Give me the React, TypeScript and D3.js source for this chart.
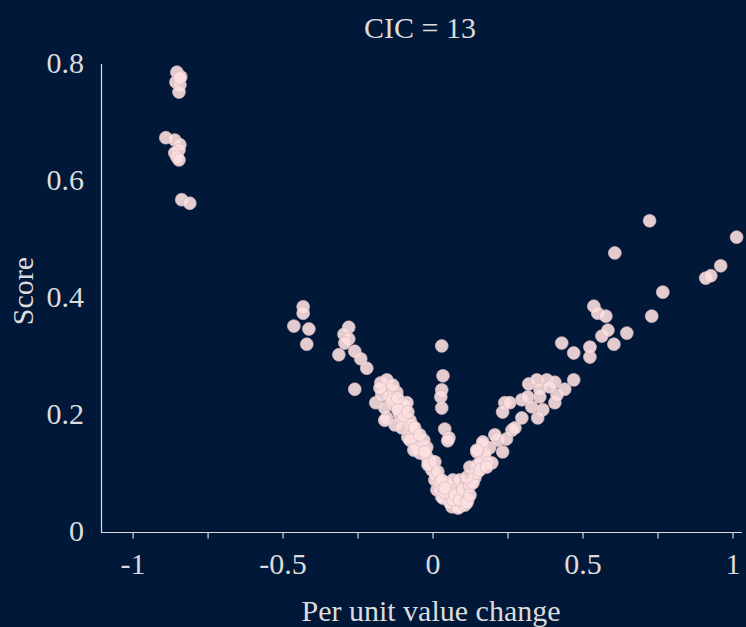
import React from "react";
import * as d3 from "d3";

const title = "CIC = 13";
const xLabel = "Per unit value change";
const yLabel = "Score";
const xTicks = [-1, -0.75, -0.5, -0.25, 0, 0.25, 0.5, 0.75, 1];
const xTickLabels = ["-1", "", "-0.5", "", "0", "", "0.5", "", "1"];
const yTicks = [0, 0.2, 0.4, 0.6, 0.8];
const yTickLabels = ["0", "0.2", "0.4", "0.6", "0.8"];

const xs = [
  -0.854, -0.841, -0.857, -0.844, -0.847, -0.844, -0.891, -0.861, -0.844, -0.847, -0.861, -0.854, -0.847, -0.838, -0.811,
  -0.433, -0.433, -0.464, -0.414, -0.421, -0.281, -0.297, -0.281, -0.294, -0.314, -0.261, -0.241, -0.221, -0.261,
  -0.174, -0.154, -0.144, -0.121, -0.191, -0.154, -0.127, -0.094, -0.144, -0.111, -0.077, -0.067, -0.084, -0.051, -0.034,
  -0.044, -0.017, -0.004, 0.006, 0.013, 0.029, 0.049, 0.073, 0.089, 0.063, 0.046, 0.066, -0.021, -0.011, -0.001, 0.013,
  0.023, 0.033, 0.056, 0.083, 0.106, 0.056, 0.079, 0.099, 0.089, 0.046, 0.066, -0.161, -0.101, -0.087, -0.171, -0.137,
  -0.118, -0.098, -0.071, -0.057, -0.031, -0.024, -0.011, 0.009, 0.023, 0.039, -0.054,
  -0.177, -0.134, -0.118, -0.161, -0.084, -0.127, -0.104, -0.061, -0.077, -0.044, -0.064, -0.027, -0.017, 0.006, 0.016,
  0.029, 0.039, 0.073, 0.089, 0.116, 0.099, 0.123, 0.139, 0.149, 0.173, 0.189, 0.216,
  0.029, 0.033, 0.029, 0.026, 0.029, 0.039, 0.053,
  0.113, 0.123, 0.133, 0.146, 0.156, 0.173, 0.166, 0.196, 0.113, 0.123, 0.146, 0.166, 0.206, 0.183, 0.156, 0.049, 0.146,
  0.179, 0.232, 0.245, 0.263, 0.296, 0.239, 0.232, 0.256, 0.296, 0.319, 0.346, 0.379, 0.406, 0.316, 0.356, 0.329, 0.366,
  0.349, 0.406, 0.413, 0.439, 0.469, 0.356, 0.389, 0.273,
  0.429, 0.469, 0.523, 0.523, 0.563, 0.583, 0.603, 0.646, 0.536, 0.549, 0.576, 0.729, 0.766, 0.722, 0.606, 0.909, 0.926,
  0.959, 1.012,
];

const ys = [
  0.786, 0.778, 0.769, 0.764, 0.752, 0.776, 0.674, 0.67, 0.662, 0.653, 0.648, 0.641, 0.636, 0.568, 0.562,
  0.385, 0.374, 0.352, 0.347, 0.321, 0.35, 0.338, 0.33, 0.323, 0.303, 0.309, 0.296, 0.28, 0.244,
  0.255, 0.26, 0.243, 0.239, 0.221, 0.195, 0.217, 0.214, 0.231, 0.2, 0.191, 0.174, 0.162, 0.154, 0.145,
  0.135, 0.123, 0.106, 0.089, 0.072, 0.06, 0.058, 0.05, 0.043, 0.043, 0.08, 0.089, 0.145, 0.123, 0.106, 0.089,
  0.072, 0.058, 0.05, 0.041, 0.046, 0.067, 0.072, 0.06, 0.089, 0.084, 0.055, 0.191, 0.217, 0.221, 0.234, 0.226,
  0.209, 0.195, 0.183, 0.166, 0.157, 0.132, 0.115, 0.097, 0.085, 0.068, 0.144,
  0.246, 0.251, 0.229, 0.212, 0.205, 0.183, 0.178, 0.178, 0.157, 0.166, 0.14, 0.137, 0.115, 0.12, 0.103,
  0.089, 0.075, 0.063, 0.055, 0.055, 0.072, 0.08, 0.092, 0.115, 0.126, 0.144, 0.157,
  0.318, 0.267, 0.243, 0.231, 0.212, 0.176, 0.161,
  0.05, 0.063, 0.084, 0.101, 0.118, 0.135, 0.149, 0.118, 0.094, 0.111, 0.137, 0.154, 0.166, 0.118, 0.106, 0.156, 0.14,
  0.111, 0.137, 0.159, 0.174, 0.195, 0.221, 0.205, 0.221, 0.226, 0.253, 0.26, 0.26, 0.256, 0.231, 0.231, 0.214, 0.209,
  0.195, 0.221, 0.234, 0.244, 0.26, 0.244, 0.248, 0.178,
  0.323, 0.306, 0.299, 0.316, 0.335, 0.345, 0.321, 0.34, 0.386, 0.374, 0.369, 0.369, 0.41, 0.532, 0.477, 0.434, 0.438,
  0.455, 0.504,
];

const W = 746;
const H = 627;
const BG = "#011839";
const TXT = "#dcdcdc";
const FONT = "'Liberation Serif', 'Times New Roman', serif";

export default function App() {
  const x = d3.scaleLinear().domain([-1.107, 1.03]).range([101, 742]);
  const y = d3.scaleLinear().domain([0, 0.8]).range([532, 64]);
  const pts = xs.map((v, i) => ({ x: v, y: ys[i] }));
  const axisY = 532.5;
  return (
    <svg
      width={W}
      height={H}
      style={{ position: "absolute", left: 0, top: 0, display: "block" }}
      fontFamily={FONT}
    >
      <rect x={0} y={0} width={W} height={H} fill={BG} />
      <text x={420} y={38} fill={TXT} fontSize={30} textAnchor="middle">
        {title}
      </text>
      <line x1={101.5} x2={101.5} y1={y(0.8)} y2={axisY} stroke={TXT} strokeWidth={1.2} />
      {yTicks.map((t, i) => (
        <text key={"yt" + i} x={84} y={y(t) + 9} fill={TXT} fontSize={30} textAnchor="end">
          {yTickLabels[i]}
        </text>
      ))}
      <text
        transform={`translate(33,${291}) rotate(-90)`}
        fill={TXT}
        fontSize={30}
        textAnchor="middle"
      >
        {yLabel}
      </text>
      <line x1={101} x2={742} y1={axisY} y2={axisY} stroke={TXT} strokeWidth={1.2} />
      {xTicks.map((t, i) => (
        <g key={"xt" + i}>
          <line x1={x(t)} x2={x(t)} y1={axisY} y2={axisY + 6} stroke={TXT} strokeWidth={1.2} />
          {xTickLabels[i] && (
            <text x={x(t)} y={574} fill={TXT} fontSize={30} textAnchor="middle">
              {xTickLabels[i]}
            </text>
          )}
        </g>
      ))}
      <text x={431} y={621} fill={TXT} fontSize={30} textAnchor="middle">
        {xLabel}
      </text>
      {pts.map((p, i) => (
        <circle
          key={i}
          cx={x(p.x)}
          cy={y(p.y)}
          r={6.4}
          fill="#fce0e0"
          fillOpacity={0.9}
          stroke="#d8b8bf"
          strokeOpacity={0.7}
          strokeWidth={1}
        />
      ))}
    </svg>
  );
}
